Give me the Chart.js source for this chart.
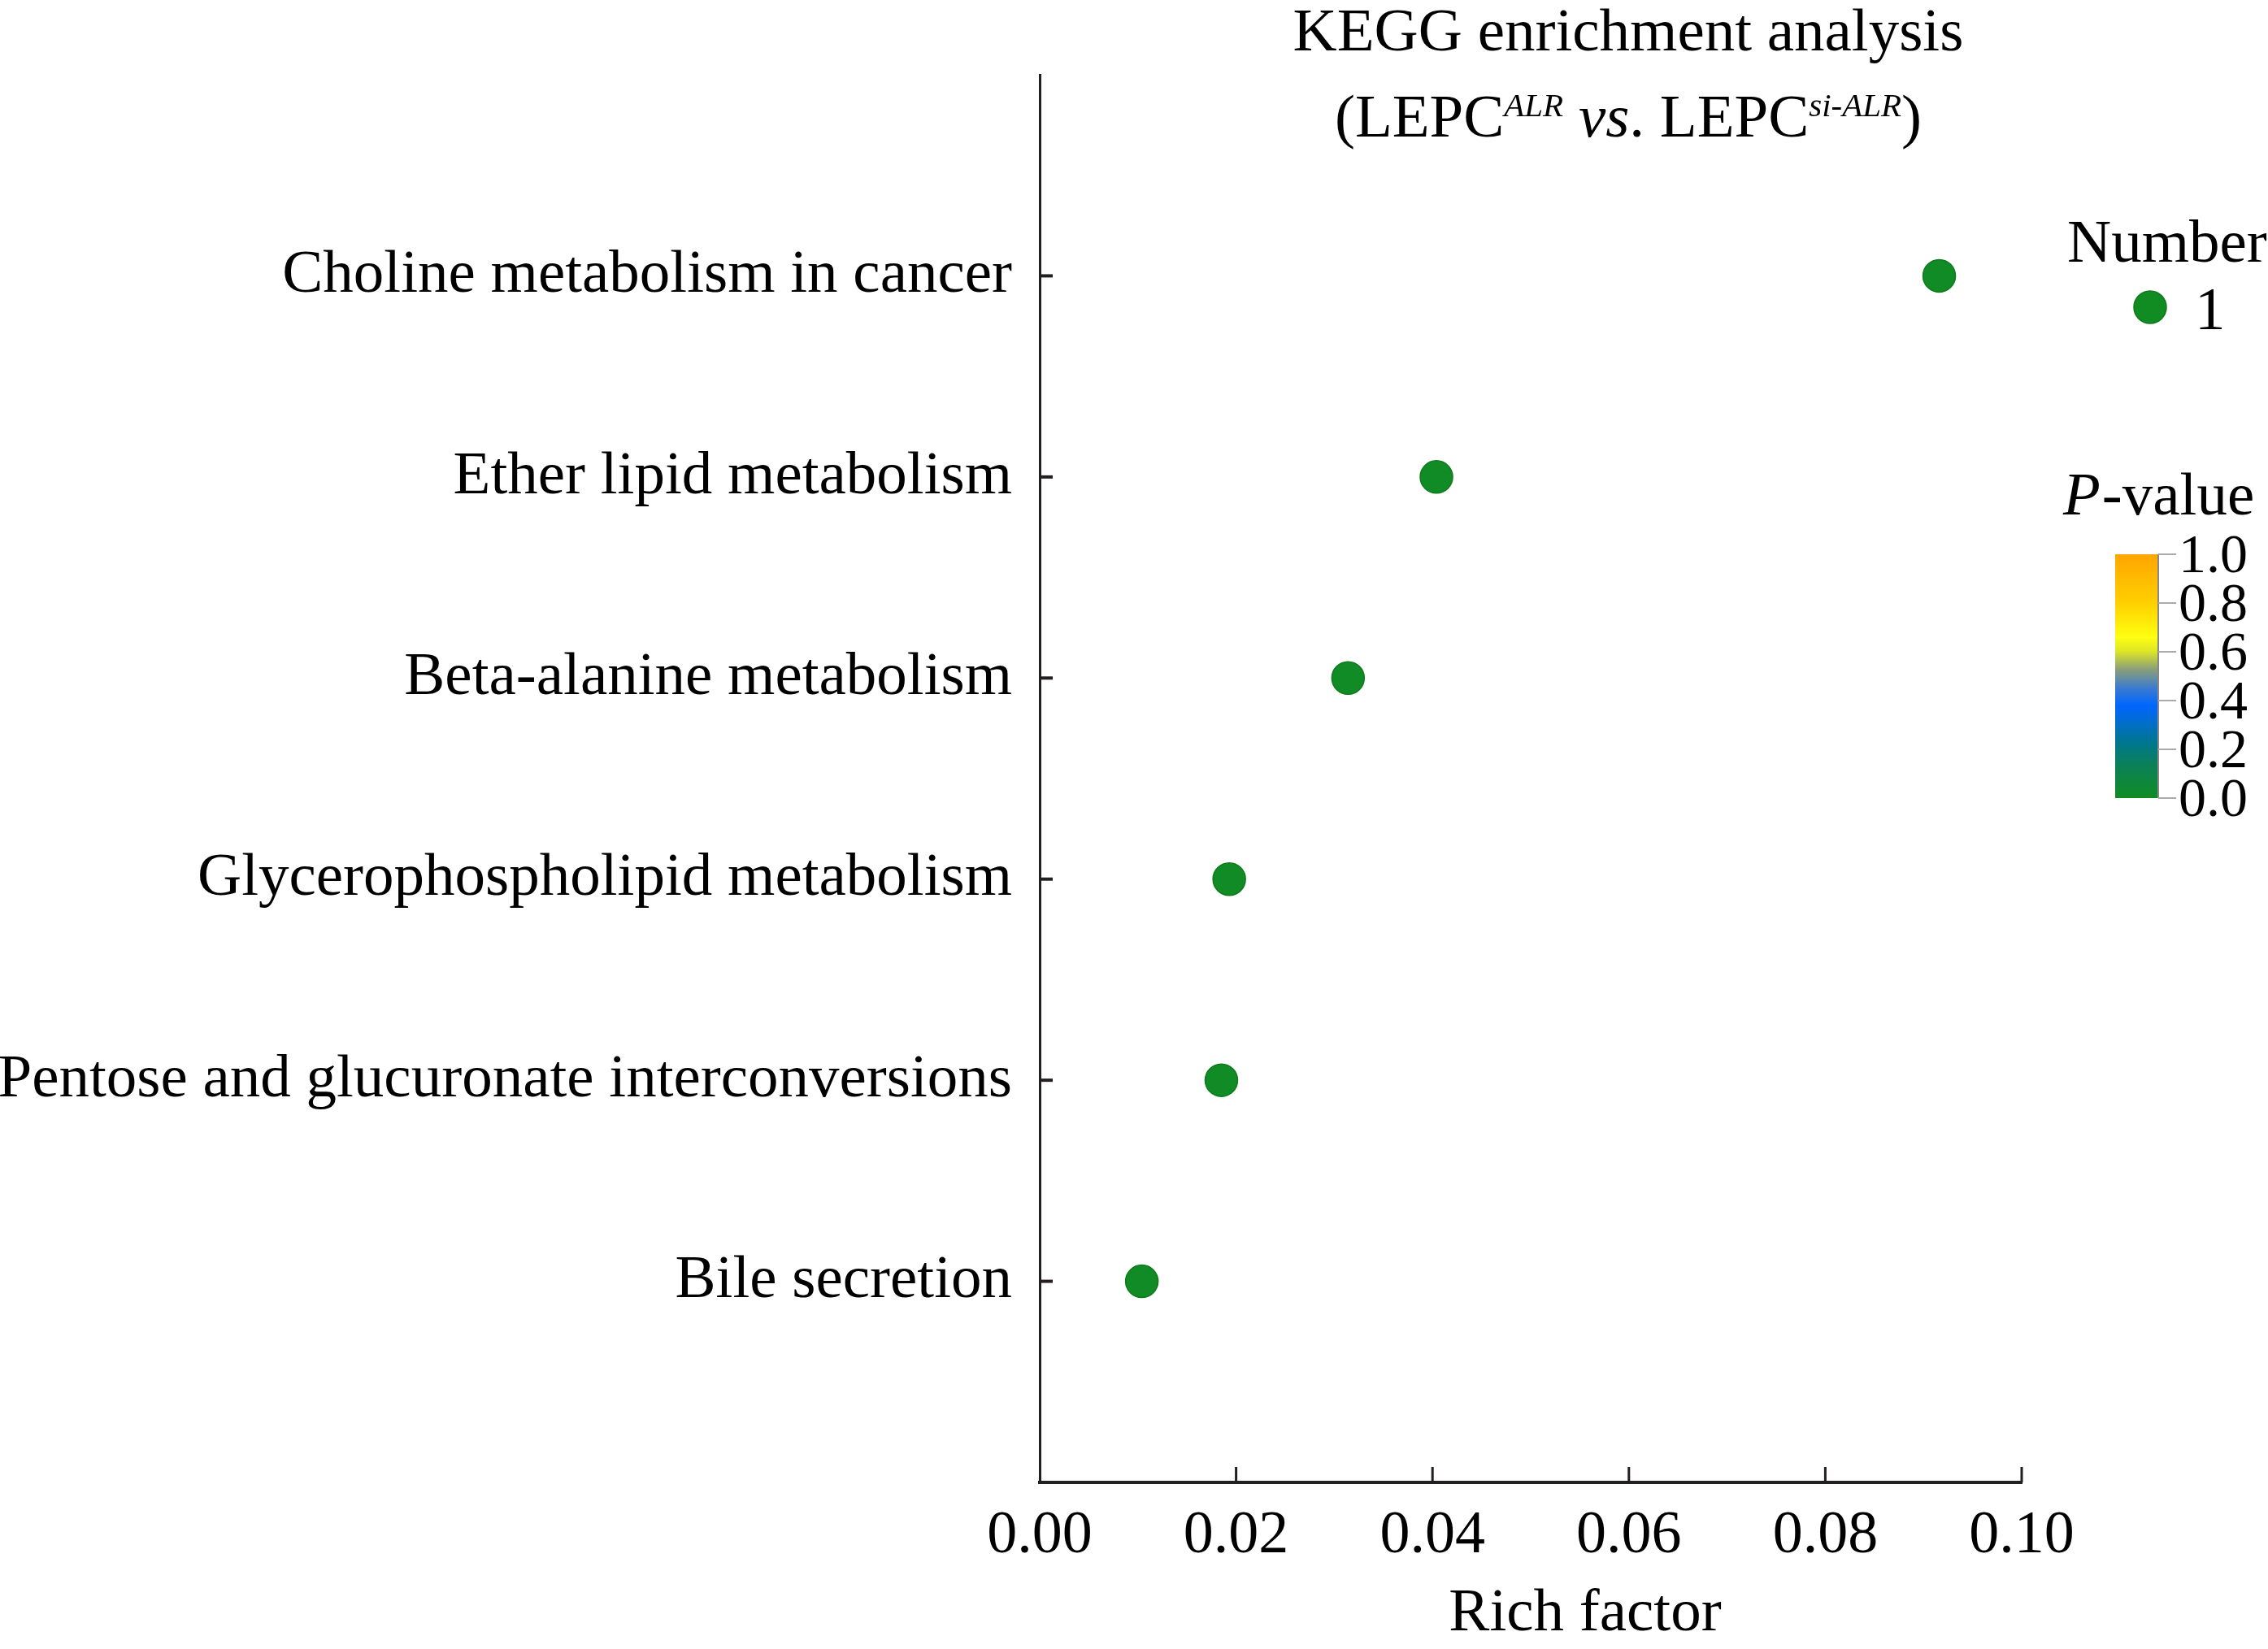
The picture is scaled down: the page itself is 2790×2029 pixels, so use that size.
<!DOCTYPE html>
<html>
<head>
<meta charset="utf-8">
<script src="https://cdn.jsdelivr.net/npm/chart.js@4"></script>
<style>
  html, body { margin: 0; padding: 0; background: #ffffff; }
  #wrap { width: 2790px; height: 2029px; position: relative; }
</style>
</head>
<body>
<div id="wrap"><canvas id="c"></canvas></div>
<script>
// ---- data ----
const categories = [
  'Choline metabolism in cancer',
  'Ether lipid metabolism',
  'Beta-alanine metabolism',
  'Glycerophospholipid metabolism',
  'Pentose and glucuronate interconversions',
  'Bile secretion'
];
const richFactor = [0.0916, 0.0404, 0.0314, 0.0193, 0.0185, 0.0104];
const geneNumber = [1, 1, 1, 1, 1, 1];
const pValue = [0.01, 0.01, 0.01, 0.01, 0.01, 0.01];
const xTickValues = [0, 0.02, 0.04, 0.06, 0.08, 0.10];
const pTickValues = [0, 0.2, 0.4, 0.6, 0.8, 1.0];
const legendNumbers = [1];

// colour scale for P-value
const pStops = [
  [0.00, [17, 140, 34]],
  [0.14, [10, 128, 90]],
  [0.22, [0, 119, 138]],
  [0.38, [0, 102, 255]],
  [0.45, [58, 122, 208]],
  [0.53, [140, 160, 120]],
  [0.60, [220, 228, 40]],
  [0.66, [255, 255, 16]],
  [0.80, [255, 208, 0]],
  [1.00, [255, 165, 0]]
];
function pColor(p) {
  for (let i = 1; i < pStops.length; i++) {
    if (p <= pStops[i][0]) {
      const a = pStops[i - 1], b = pStops[i];
      const t = (p - a[0]) / (b[0] - a[0]);
      const c = a[1].map((v, k) => Math.round(v + (b[1][k] - v) * t));
      return `rgb(${c[0]},${c[1]},${c[2]})`;
    }
  }
  const l = pStops[pStops.length - 1][1];
  return `rgb(${l[0]},${l[1]},${l[2]})`;
}

const FONT = "'Liberation Serif', 'Times New Roman', serif";
const AXIS = '#231f20';

const points = categories.map((c, i) => ({ x: richFactor[i], y: categories.length - i, n: geneNumber[i], p: pValue[i] }));

const innerTicks = {
  id: 'innerTicks',
  afterDatasetsDraw(chart) {
    const ctx = chart.ctx, x = chart.scales.x, y = chart.scales.y, a = chart.chartArea;
    ctx.save();
    ctx.strokeStyle = AXIS;
    ctx.lineWidth = 3;
    x.ticks.forEach(t => {
      const px = x.getPixelForValue(t.value);
      if (t.value === 0) return;
      ctx.beginPath(); ctx.moveTo(px, a.bottom); ctx.lineTo(px, a.bottom - 19); ctx.stroke();
    });
    ctx.lineWidth = 4;
    y.ticks.forEach(t => {
      const py = y.getPixelForValue(t.value);
      ctx.beginPath(); ctx.moveTo(a.left, py); ctx.lineTo(a.left + 16, py); ctx.stroke();
    });
    ctx.restore();
  }
};

function drawRuns(ctx, runs, cx, baseline) {
  let total = 0;
  runs.forEach(r => { ctx.font = r.font; r.w = ctx.measureText(r.t).width; total += r.w; });
  let x = cx - total / 2;
  runs.forEach(r => {
    ctx.font = r.font;
    ctx.fillText(r.t, x, baseline - (r.rise || 0));
    x += r.w;
  });
}

const decorations = {
  id: 'decorations',
  afterDraw(chart) {
    const ctx = chart.ctx;
    ctx.save();
    ctx.fillStyle = '#000';
    ctx.textBaseline = 'alphabetic';
    ctx.textAlign = 'left';
    // title
    drawRuns(ctx, [{ t: 'KEGG enrichment analysis', font: `75px ${FONT}` }], 2003, 62);
    drawRuns(ctx, [
      { t: '(LEPC', font: `75px ${FONT}` },
      { t: 'ALR', font: `italic 41px ${FONT}`, rise: 25 },
      { t: ' ', font: `75px ${FONT}` },
      { t: 'vs', font: `italic 75px ${FONT}` },
      { t: '. LEPC', font: `75px ${FONT}` },
      { t: 'si-ALR', font: `italic 41px ${FONT}`, rise: 25 },
      { t: ')', font: `75px ${FONT}` }
    ], 2003, 168);
    // x axis title
    drawRuns(ctx, [{ t: 'Rich factor', font: `75px ${FONT}` }], 1950, 2006);

    // Number legend
    ctx.font = `75px ${FONT}`;
    ctx.fillText('Number', 2543, 322);
    legendNumbers.forEach((n, i) => {
      const cy = 378 + i * 80;
      ctx.beginPath();
      ctx.arc(2645, cy, 20, 0, Math.PI * 2);
      ctx.fillStyle = pColor(0);
      ctx.fill();
      ctx.lineWidth = 1.5; ctx.strokeStyle = '#0e7a1c'; ctx.stroke();
      ctx.fillStyle = '#000';
      ctx.font = `75px ${FONT}`;
      ctx.fillText(String(n), 2700, cy + 27);
    });

    // P-value colourbar
    ctx.font = `italic 75px ${FONT}`;
    ctx.fillText('P', 2538, 633);
    const pw = ctx.measureText('P').width;
    ctx.font = `75px ${FONT}`;
    ctx.fillText('-value', 2538 + pw + 2, 633);

    const bx = 2602, bw = 53, top = 682, bot = 982;
    const g = ctx.createLinearGradient(0, bot, 0, top);
    pStops.forEach(s => g.addColorStop(s[0], `rgb(${s[1].join(',')})`));
    ctx.fillStyle = g;
    ctx.fillRect(bx, top, bw, bot - top);
    ctx.strokeStyle = '#888';
    ctx.lineWidth = 2;
    ctx.beginPath(); ctx.moveTo(bx + bw, top); ctx.lineTo(bx + bw, bot); ctx.stroke();
    ctx.fillStyle = '#000';
    ctx.font = `68px ${FONT}`;
    ctx.textBaseline = 'middle';
    pTickValues.forEach(v => {
      const py = bot - v * (bot - top);
      ctx.strokeStyle = '#aaa';
      ctx.lineWidth = 2;
      ctx.beginPath(); ctx.moveTo(bx + bw, py); ctx.lineTo(bx + bw + 22, py); ctx.stroke();
      ctx.fillText(v.toFixed(1), 2680, py + 4);
    });
    ctx.restore();
  }
};

new Chart(document.getElementById('c'), {
  type: 'scatter',
  data: {
    datasets: [{
      label: 'KEGG',
      data: points,
      pointRadius: 20,
      pointHoverRadius: 20,
      pointBackgroundColor: points.map(p => pColor(p.p)),
      pointBorderColor: '#0e7a1c',
      pointBorderWidth: 1.5
    }]
  },
  options: {
    responsive: true,
    maintainAspectRatio: false,
    devicePixelRatio: 1,
    animation: false,
    layout: { padding: { top: 92, right: 303, left: 0, bottom: 0 } },
    plugins: { legend: { display: false }, tooltip: { enabled: false }, title: { display: false } },
    scales: {
      x: {
        type: 'linear', min: 0, max: 0.1,
        afterBuildTicks: s => { s.ticks = xTickValues.map(v => ({ value: v })); },
        afterFit: s => { s.height = 205; },
        ticks: { callback: v => Number(v).toFixed(2), color: '#000', font: { family: FONT, size: 74 }, padding: 22, maxRotation: 0, autoSkip: false },
        grid: { display: true, drawOnChartArea: false, drawTicks: false },
        border: { display: true, color: AXIS, width: 4 }
      },
      y: {
        type: 'linear', min: 0, max: categories.length + 1,
        afterBuildTicks: s => { s.ticks = categories.map((c, i) => ({ value: categories.length - i })); },
        afterFit: s => { s.width = 1279; },
        ticks: { callback: v => categories[categories.length - v], color: '#000', font: { family: FONT, size: 75 }, padding: 34, autoSkip: false },
        grid: { display: true, drawOnChartArea: false, drawTicks: false },
        border: { display: true, color: AXIS, width: 3 }
      }
    }
  },
  plugins: [innerTicks, decorations]
});
</script>
</body>
</html>
